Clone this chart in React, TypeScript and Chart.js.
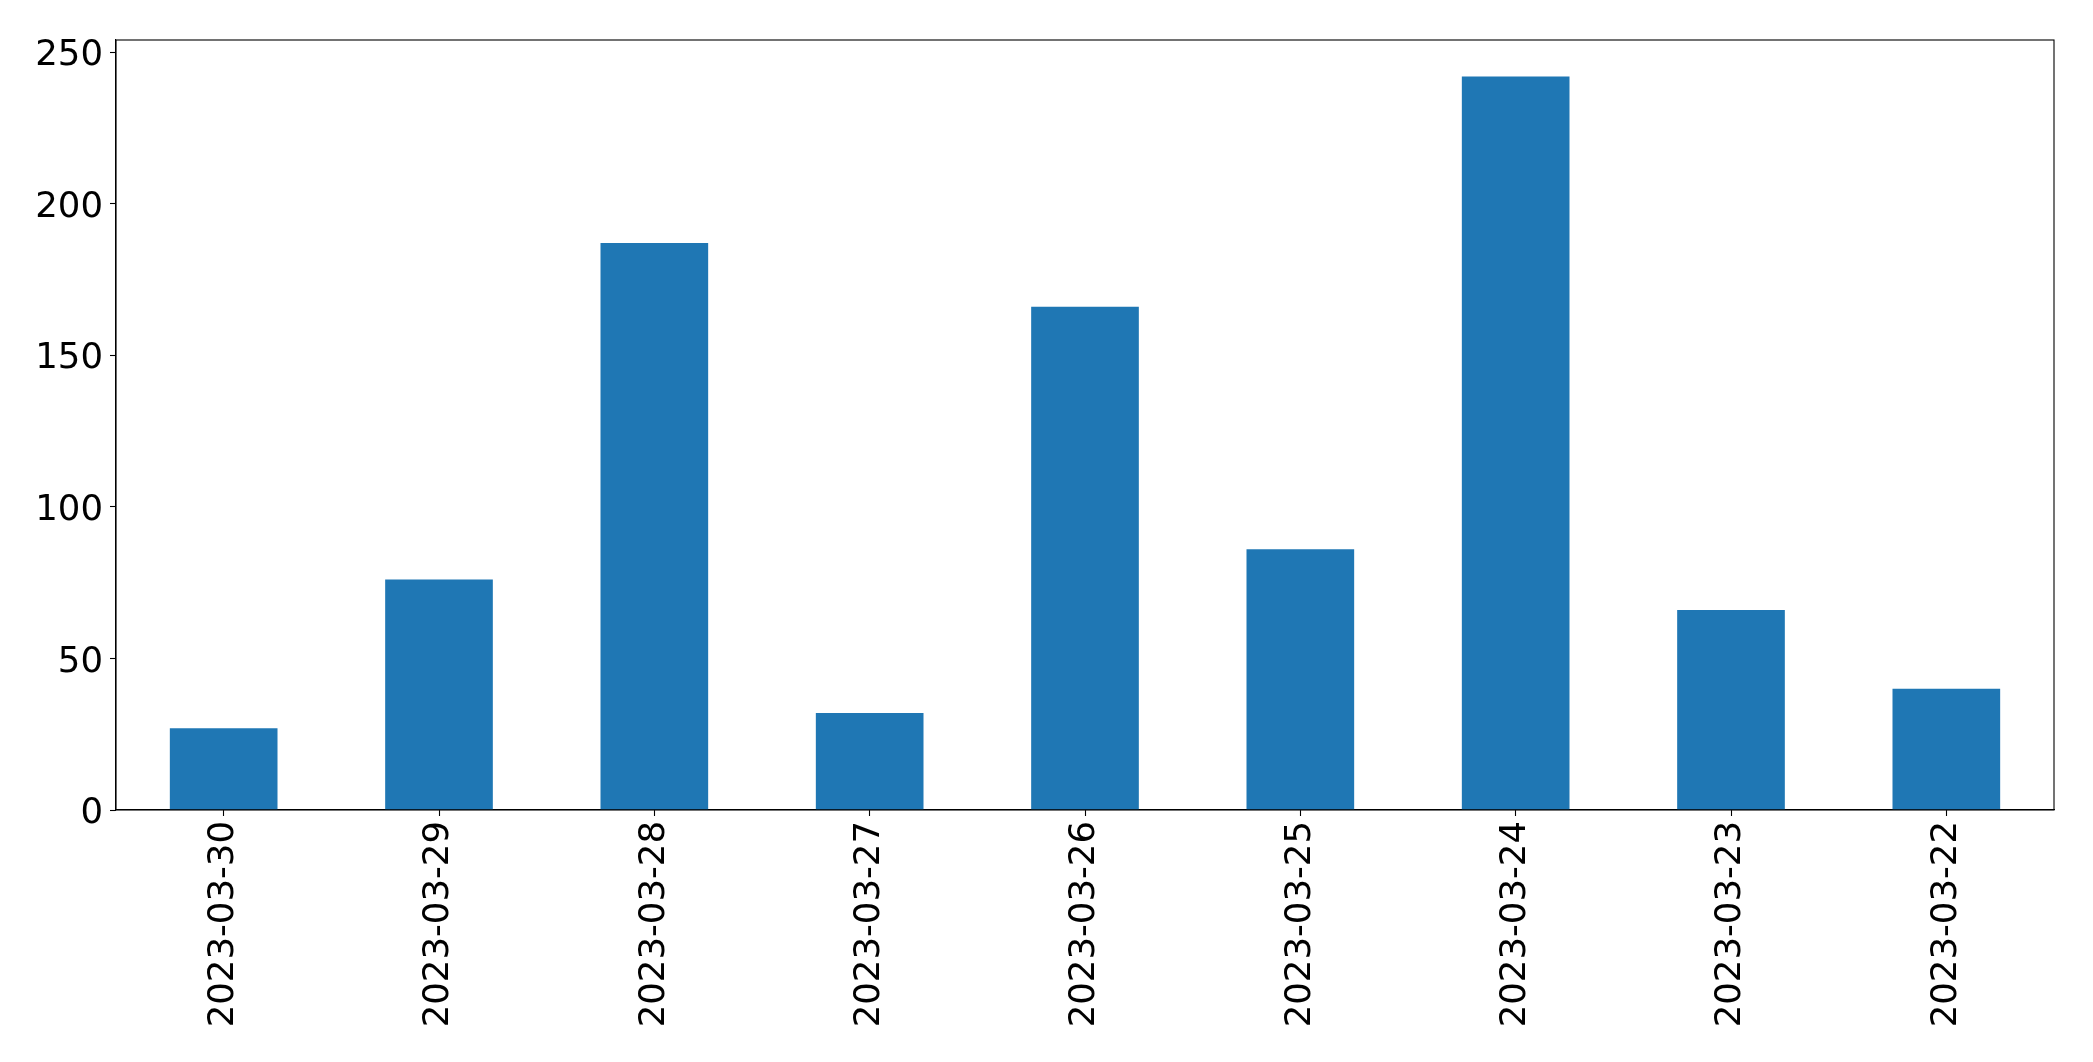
import React, { useEffect, useRef } from "react";
import { Chart, registerables } from "chart.js";

Chart.register(...registerables);

const categories = [
  "2023-03-30",
  "2023-03-29",
  "2023-03-28",
  "2023-03-27",
  "2023-03-26",
  "2023-03-25",
  "2023-03-24",
  "2023-03-23",
  "2023-03-22",
];
const values = [27, 76, 187, 32, 166, 86, 242, 66, 40];
const yTicks = [0, 50, 100, 150, 200, 250];
const yMax = 254;

const W = 2093;
const H = 1062;

const framePlugin = {
  id: "frame",
  afterDraw(chart: any) {
    const { ctx, chartArea } = chart;
    ctx.save();
    ctx.strokeStyle = "#000";
    ctx.lineWidth = 1.1;
    ctx.strokeRect(chartArea.left, chartArea.top, chartArea.right - chartArea.left, chartArea.bottom - chartArea.top);
    ctx.restore();
  },
};

export default function App() {
  const ref = useRef<HTMLCanvasElement | null>(null);
  useEffect(() => {
    if (!ref.current) return;
    const chart = new Chart(ref.current, {
      type: "bar",
      data: {
        labels: categories,
        datasets: [
          {
            data: values,
            backgroundColor: "#1f77b4",
            borderWidth: 0,
            barPercentage: 0.5,
            categoryPercentage: 1.0,
          },
        ],
      },
      plugins: [framePlugin],
      options: {
        animation: false,
        responsive: false,
        maintainAspectRatio: false,
        devicePixelRatio: 1,
        layout: { padding: { left: 0, top: 40, right: 39, bottom: 0 } },
        plugins: { legend: { display: false }, tooltip: { enabled: false }, title: { display: false } },
        scales: {
          x: {
            offset: true,
            grid: { display: true, offset: false, drawOnChartArea: false, tickLength: 6, tickColor: "#000", tickWidth: 1.1 },
            border: { display: true, color: "#000", width: 1.1 },
            ticks: {
              minRotation: 90,
              maxRotation: 90,
              autoSkip: false,
              padding: 5,
              color: "#000",
              font: { family: "'DejaVu Sans'", size: 35.5 },
            },
            afterFit: (s: any) => {
              s.height = H - 810;
            },
          },
          y: {
            min: 0,
            max: yMax,
            grid: { display: true, drawOnChartArea: false, tickLength: 6, tickColor: "#000", tickWidth: 1.1 },
            border: { display: true, color: "#000", width: 1.1 },
            ticks: {
              padding: 7,
              labelOffset: 4,
              color: "#000",
              font: { family: "'DejaVu Sans'", size: 35.5 },
            },
            afterBuildTicks: (s: any) => {
              s.ticks = yTicks.map((v) => ({ value: v }));
            },
            afterFit: (s: any) => {
              s.width = 116;
            },
          },
        },
      },
    });
    return () => chart.destroy();
  }, []);
  return (
    <div style={{ position: "fixed", left: 0, top: 0, width: W, height: H, background: "#fff" }}>
      <canvas ref={ref} width={W} height={H} style={{ width: W, height: H, display: "block" }} />
    </div>
  );
}
